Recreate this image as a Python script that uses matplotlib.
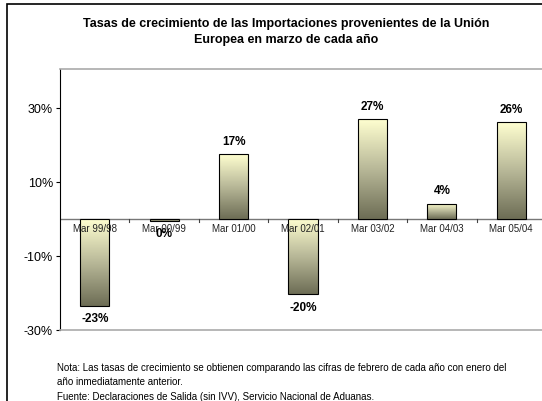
import numpy as np
import matplotlib
matplotlib.use("Agg")
from matplotlib import pyplot as plt
from matplotlib.colors import LinearSegmentedColormap
from matplotlib.patches import Rectangle

plt.rcParams['font.family'] = ['Liberation Sans', 'DejaVu Sans']

categories = ["Mar 99/98", "Mar 00/99", "Mar 01/00", "Mar 02/01", "Mar 03/02", "Mar 04/03", "Mar 05/04"]
values = [-23.4, -0.5, 17.5, -20.3, 26.9, 4.1, 26.2]
labels = ["-23%", "0%", "17%", "-20%", "27%", "4%", "26%"]
yticks = [-30, -10, 10, 30]

title = "Tasas de crecimiento de las Importaciones provenientes de la Unión\nEuropea en marzo de cada año"
note = ("Nota: Las tasas de crecimiento se obtienen comparando las cifras de febrero de cada año con enero del\n"
        "año inmediatamente anterior.\n"
        "Fuente: Declaraciones de Salida (sin IVV), Servicio Nacional de Aduanas.")

fig = plt.figure(figsize=(5.42, 4.02), dpi=100)
fig.patches.append(Rectangle((7 / 542, -0.1), 1.2, 1 - 5 / 402 + 0.1, transform=fig.transFigure,
                             fill=False, edgecolor="black", linewidth=1.2))
ax = fig.add_axes([60 / 542, 1 - 331 / 402, 486 / 542, 261 / 402])

cmap = LinearSegmentedColormap.from_list("bar", ["#6d6d55", "#b8b898", "#ffffd0"])
grad = np.linspace(0, 1, 256).reshape(-1, 1)
width = 0.42
x = np.arange(len(categories))
bars = ax.bar(x, values, width=width, facecolor="none", edgecolor="black", linewidth=0.8, zorder=3)
for b in bars:
    x0, y0 = b.get_x(), b.get_y()
    w, h = b.get_width(), b.get_height()
    lo, hi = min(y0, y0 + h), max(y0, y0 + h)
    im = ax.imshow(grad, cmap=cmap, aspect="auto", origin="lower",
                   extent=(x0, x0 + w, lo, hi), zorder=2)
    im.set_clip_path(b)

for xi, v, lab in zip(x, values, labels):
    if v >= 0:
        ax.text(xi, v + 2.0, lab, ha="center", va="bottom", fontsize=8.5, fontweight="bold")
    else:
        ax.text(xi, v - 1.8, lab, ha="center", va="top", fontsize=8.5, fontweight="bold")

for xi, c in zip(x, categories):
    ax.text(xi, -1.2, c, ha="center", va="top", fontsize=7, color="#222222", zorder=4)

ax.axhline(0, color="#777777", linewidth=1, zorder=1)
ax.set_xlim(-0.5, len(categories) - 0.5)
ax.set_ylim(-30, 40.5)
ax.set_yticks(yticks)
ax.set_yticklabels([f"{t}%" for t in yticks], fontsize=9)
ax.set_xticks([])
for xb in np.arange(0.5, len(categories) - 0.5, 1):
    ax.plot([xb, xb], [0, -0.8], color="#444444", linewidth=0.8, zorder=1)

for s in ["top", "bottom"]:
    ax.spines[s].set_color("#aaaaaa")
    ax.spines[s].set_linewidth(1.2)
ax.spines["right"].set_visible(False)
ax.spines["left"].set_color("black")
ax.tick_params(axis="y", length=3, pad=2)

fig.text(286 / 542, 1 - 32 / 402, title, ha="center", va="center", fontsize=9, fontweight="bold", linespacing=1.5)
fig.text(57 / 542, 1 - 363 / 402, note, ha="left", va="top", fontsize=7, linespacing=1.55)

fig.savefig("out.png", dpi=100)
